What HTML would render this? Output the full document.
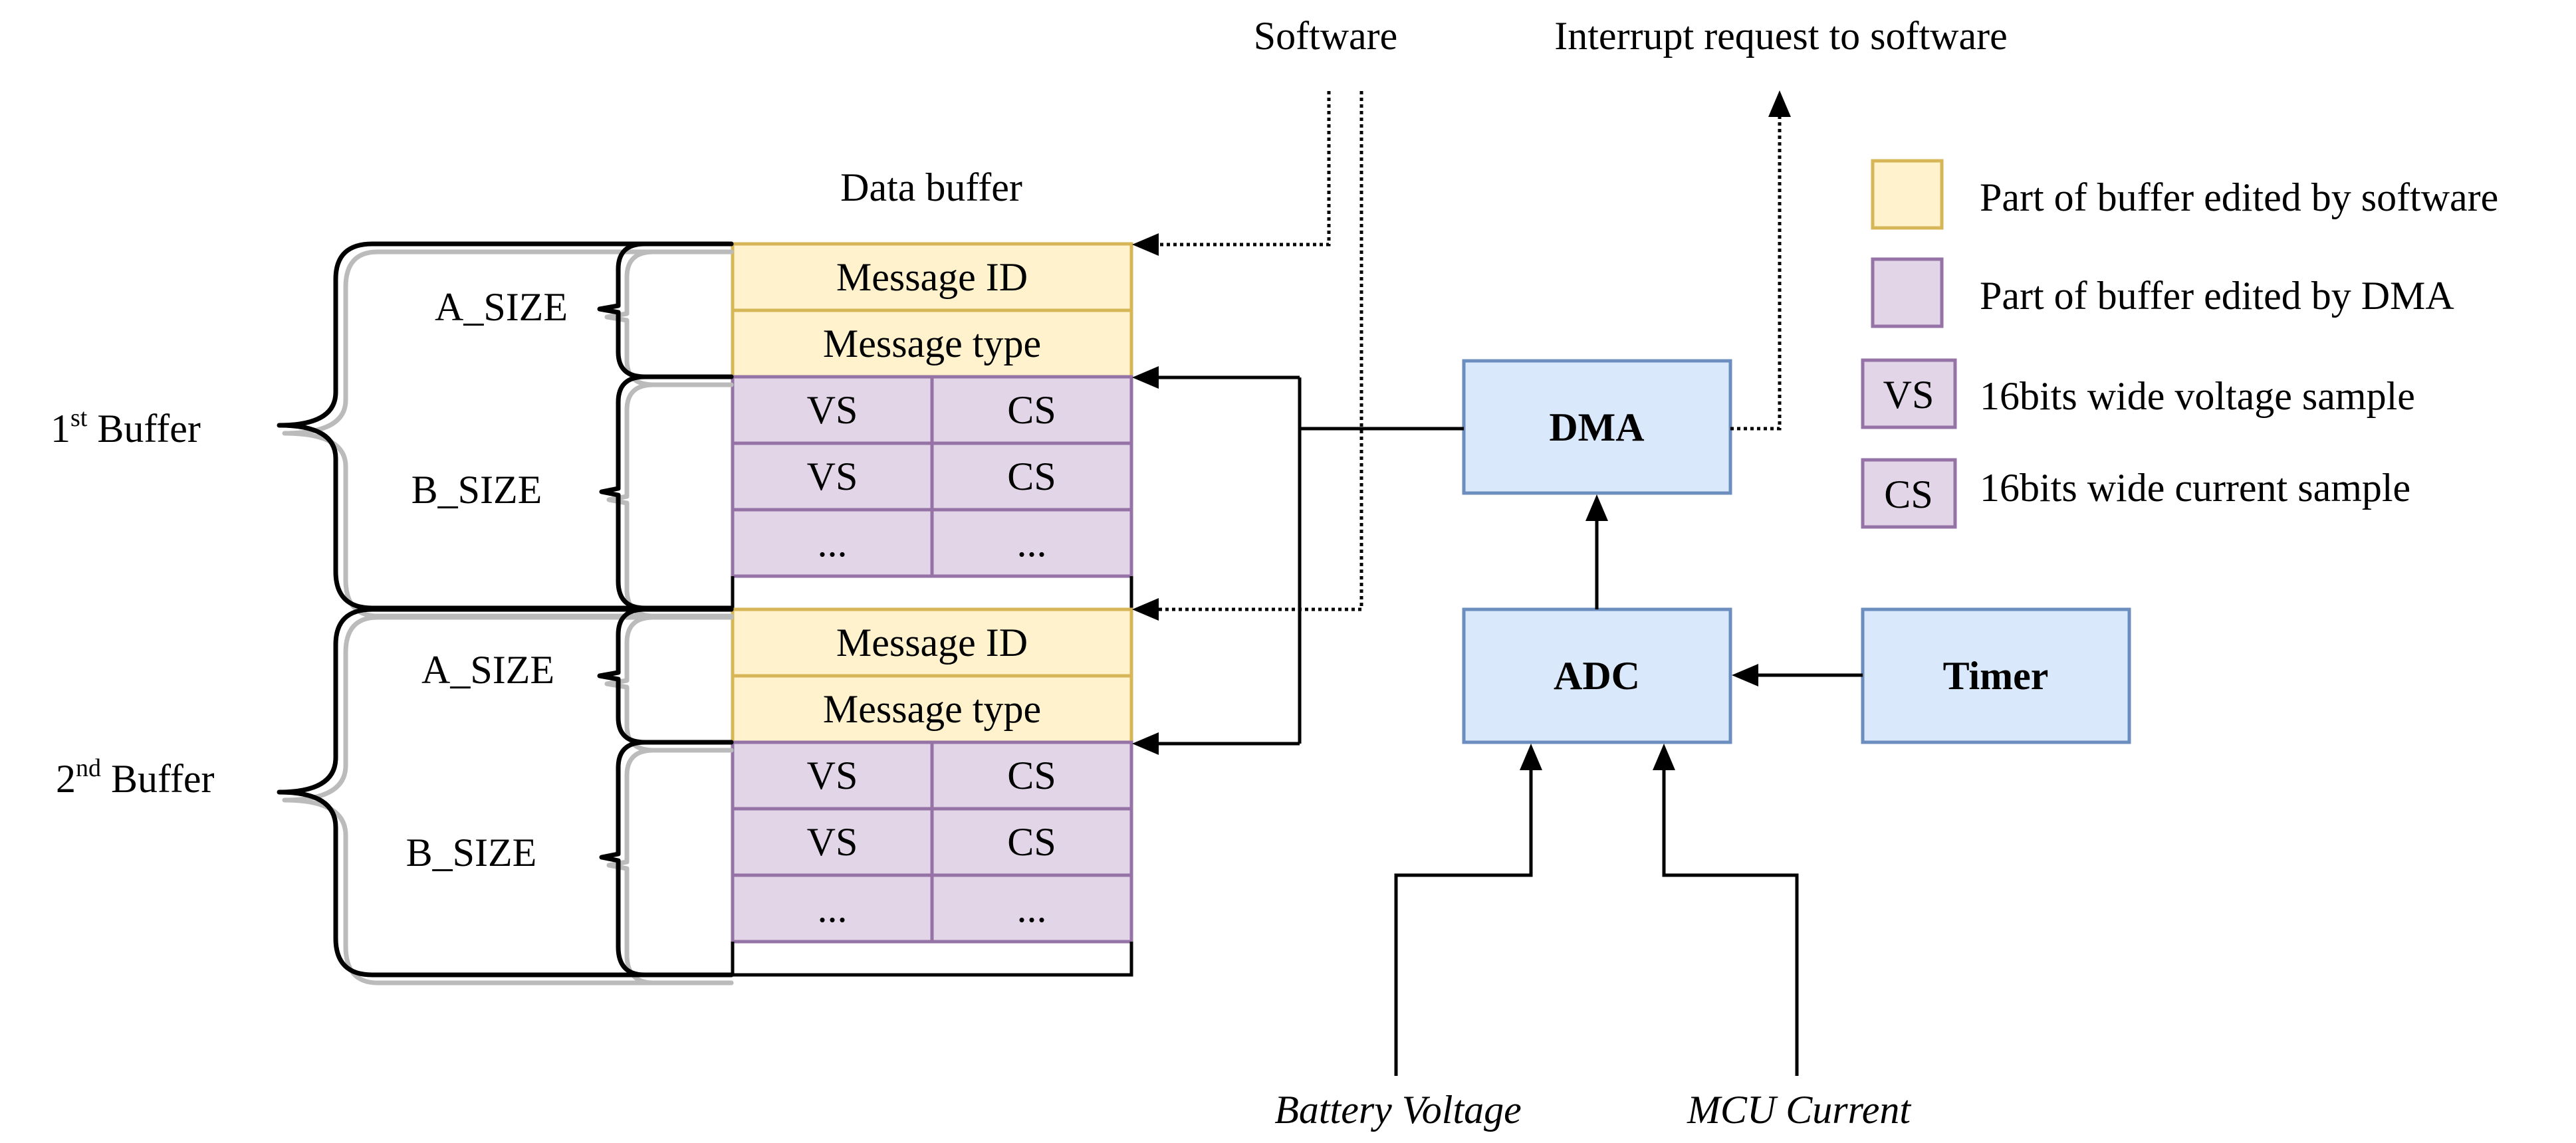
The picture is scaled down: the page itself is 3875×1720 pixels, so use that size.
<!DOCTYPE html>
<html><head><meta charset="utf-8"><style>
html,body{margin:0;padding:0;background:#fff;}
svg{display:block;}
svg text{font-family:"Liberation Serif","Noto Serif CJK SC","DejaVu Serif","Times New Roman",serif !important;font-size:60px;fill:#000;}
</style></head><body>
<svg width="3875" height="1720" viewBox="0 0 3875 1720" xmlns="http://www.w3.org/2000/svg">

<g stroke-width="5">
<rect x="1102" y="367" width="600" height="100" fill="#fff2cc" stroke="#d6b656"/>
<rect x="1102" y="467" width="600" height="100" fill="#fff2cc" stroke="#d6b656"/>
<rect x="1102" y="567" width="300" height="100" fill="#e1d5e7" stroke="#9673a6"/>
<rect x="1402" y="567" width="300" height="100" fill="#e1d5e7" stroke="#9673a6"/>
<rect x="1102" y="667" width="300" height="100" fill="#e1d5e7" stroke="#9673a6"/>
<rect x="1402" y="667" width="300" height="100" fill="#e1d5e7" stroke="#9673a6"/>
<rect x="1102" y="767" width="300" height="100" fill="#e1d5e7" stroke="#9673a6"/>
<rect x="1402" y="767" width="300" height="100" fill="#e1d5e7" stroke="#9673a6"/>
<path d="M1102 867 V917 M1702 867 V917" stroke="#000"/>
<rect x="1102" y="917" width="600" height="100" fill="#fff2cc" stroke="#d6b656"/>
<rect x="1102" y="1017" width="600" height="100" fill="#fff2cc" stroke="#d6b656"/>
<rect x="1102" y="1117" width="300" height="100" fill="#e1d5e7" stroke="#9673a6"/>
<rect x="1402" y="1117" width="300" height="100" fill="#e1d5e7" stroke="#9673a6"/>
<rect x="1102" y="1217" width="300" height="100" fill="#e1d5e7" stroke="#9673a6"/>
<rect x="1402" y="1217" width="300" height="100" fill="#e1d5e7" stroke="#9673a6"/>
<rect x="1102" y="1317" width="300" height="100" fill="#e1d5e7" stroke="#9673a6"/>
<rect x="1402" y="1317" width="300" height="100" fill="#e1d5e7" stroke="#9673a6"/>
<path d="M1102 1417 V1467 H1702 V1417" stroke="#000" fill="none"/>
</g>
<g text-anchor="middle">
<text x="1402" y="437">Message ID</text>
<text x="1402" y="537">Message type</text>
<text x="1252" y="637">VS</text><text x="1552" y="637">CS</text>
<text x="1252" y="737">VS</text><text x="1552" y="737">CS</text>
<text x="1252" y="837">...</text><text x="1552" y="837">...</text>
<text x="1402" y="987">Message ID</text>
<text x="1402" y="1087">Message type</text>
<text x="1252" y="1187">VS</text><text x="1552" y="1187">CS</text>
<text x="1252" y="1287">VS</text><text x="1552" y="1287">CS</text>
<text x="1252" y="1387">...</text><text x="1552" y="1387">...</text>
<text x="1401" y="302">Data buffer</text>
<text x="1994" y="74">Software</text>
<text x="2679" y="74">Interrupt request to software</text>
</g>

<g fill="none" stroke-linecap="round" stroke-linejoin="round">
<g stroke="#bbb" stroke-width="7" transform="translate(8,12)">
<path d="M1092 367 H560 Q512 367 512 420 V590 Q512 640 420 640 Q512 640 512 690 V860 Q512 915 560 915 H1092"/>
<path d="M1092 917 H560 Q512 917 512 970 V1140 Q512 1192 420 1192 Q512 1192 512 1245 V1412 Q512 1467 560 1467 H1092"/>
<path d="M1092 367 H975 Q935 367 935 405 V460 L905 465 L935 470 V530 Q935 567 975 567 H1092"/>
<path d="M1092 567 H975 Q935 567 935 605 V735 L908 740 L935 745 V875 Q935 915 975 915 H1092"/>
<path d="M1092 917 H975 Q935 917 935 955 V1012 L905 1017 L935 1022 V1080 Q935 1117 975 1117 H1092"/>
<path d="M1092 1117 H975 Q935 1117 935 1155 V1285 L908 1290 L935 1295 V1425 Q935 1467 975 1467 H1092"/>
</g>
<g stroke="#000" stroke-width="7">
<path d="M1100 367 H560 Q505 367 505 420 V590 Q505 640 420 640 Q505 640 505 690 V860 Q505 915 560 915 H1100"/>
<path d="M1100 917 H560 Q505 917 505 970 V1140 Q505 1192 420 1192 Q505 1192 505 1245 V1412 Q505 1467 560 1467 H1100"/>
<path d="M1100 367 H970 Q930 367 930 405 V460 L902 465 L930 470 V530 Q930 567 970 567 H1100"/>
<path d="M1100 567 H970 Q930 567 930 605 V735 L905 740 L930 745 V875 Q930 915 970 915 H1100"/>
<path d="M1100 917 H970 Q930 917 930 955 V1012 L902 1017 L930 1022 V1080 Q930 1117 970 1117 H1100"/>
<path d="M1100 1117 H970 Q930 1117 930 1155 V1285 L905 1290 L930 1295 V1425 Q930 1467 970 1467 H1100"/>
</g>
</g>
<text x="76" y="665">1<tspan font-size="38" dy="-24">st</tspan><tspan dy="24"> Buffer</tspan></text>
<text x="84" y="1192">2<tspan font-size="38" dy="-24">nd</tspan><tspan dy="24"> Buffer</tspan></text>
<g text-anchor="middle">
<text x="754" y="482">A_SIZE</text>
<text x="717" y="757">B_SIZE</text>
<text x="734" y="1028">A_SIZE</text>
<text x="709" y="1303">B_SIZE</text>
</g>

<g fill="#dae8fc" stroke="#6c8ebf" stroke-width="5">
<rect x="2202" y="543" width="401" height="199"/>
<rect x="2202" y="917" width="401" height="200"/>
<rect x="2802" y="917" width="401" height="200"/>
</g>
<g text-anchor="middle">
<text x="2402" y="663" font-weight="bold">DMA</text>
<text x="2402" y="1037" font-weight="bold">ADC</text>
<text x="3002" y="1037" font-weight="bold">Timer</text>
</g>

<g fill="none" stroke="#000" stroke-width="5">
<path d="M2202 645 H1955 M1955 568 V1119 M1955 568 H1740 M1955 1119 H1740"/>
<path d="M2402 917 V780"/>
<path d="M2802 1016 H2640"/>
<path d="M2100 1619 V1317 H2303 V1155"/>
<path d="M2703 1619 V1317 H2503 V1155"/>
</g>
<g fill="none" stroke="#000" stroke-width="5" stroke-dasharray="5 5">
<path d="M1999 137 V368 H1740"/>
<path d="M2048 137 V917 H1740"/>
<path d="M2603 645 H2677 V175"/>
</g>
<g fill="#000">
<polygon points="1703,568 1743,551 1743,585"/>
<polygon points="1703,1119 1743,1102 1743,1136"/>
<polygon points="1703,368 1743,351 1743,385"/>
<polygon points="1703,917 1743,900 1743,934"/>
<polygon points="2402,744 2385,784 2419,784"/>
<polygon points="2605,1016 2645,999 2645,1033"/>
<polygon points="2303,1119 2286,1159 2320,1159"/>
<polygon points="2503,1119 2486,1159 2520,1159"/>
<polygon points="2677,136 2660,176 2694,176"/>
</g>
<g text-anchor="middle">
<text x="2103" y="1690" font-style="italic">Battery Voltage</text>
<text x="2706" y="1690" font-style="italic">MCU Current</text>
</g>

<g stroke-width="5">
<rect x="2817" y="242" width="104" height="101" fill="#fff2cc" stroke="#d6b656"/>
<rect x="2817" y="390" width="104" height="101" fill="#e1d5e7" stroke="#9673a6"/>
<rect x="2802" y="542" width="139" height="101" fill="#e1d5e7" stroke="#9673a6"/>
<rect x="2802" y="692" width="139" height="101" fill="#e1d5e7" stroke="#9673a6"/>
</g>
<text x="2871" y="614" text-anchor="middle">VS</text>
<text x="2871" y="764" text-anchor="middle">CS</text>
<text x="2978" y="317">Part of buffer edited by software</text>
<text x="2978" y="465">Part of buffer edited by DMA</text>
<text x="2978" y="616">16bits wide voltage sample</text>
<text x="2978" y="754">16bits wide current sample</text>
</svg>
</body></html>
